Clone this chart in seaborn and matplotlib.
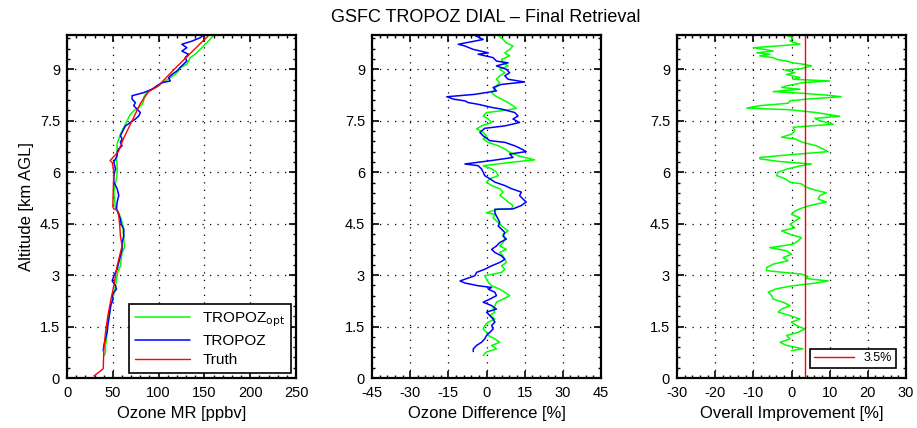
import matplotlib
matplotlib.use('Agg')
import matplotlib.pyplot as plt
import seaborn as sns
from matplotlib.ticker import MultipleLocator, FormatStrFormatter

# ozone mixing ratio profiles [ppbv] vs altitude [km AGL]
alt_mr_tropoz = [9.99, 9.92, 9.82, 9.73, 9.63, 9.53, 9.44, 9.34, 9.24, 9.15,
                 9.05, 8.95, 8.85, 8.76, 8.66, 8.61, 8.52, 8.42, 8.32, 8.23,
                 8.13, 8.03, 7.94, 7.84, 7.74, 7.64, 7.55, 7.45, 7.35, 7.26,
                 7.16, 7.06, 6.97, 6.87, 6.77, 6.68, 6.58, 6.48, 6.39, 6.29,
                 6.10, 5.90, 5.71, 5.52, 5.32, 5.13, 4.93, 4.77, 4.63, 4.48,
                 4.34, 4.14, 3.95, 3.75, 3.56, 3.37, 3.17, 2.98, 2.83, 2.69,
                 2.59, 2.50, 2.40, 2.30, 2.11, 1.92, 1.72, 1.53, 1.33, 1.14,
                 0.95, 0.80]
mr_tropoz = [148.9, 145.3, 136.2, 125.4, 130.8, 125.4, 132.6, 129.0, 130.8, 127.2,
             123.5, 119.9, 114.5, 110.9, 112.7, 103.6, 98.2, 92.8, 83.7, 71.0,
             71.0, 74.6, 72.8, 76.4, 80.1, 78.3, 74.6, 69.2, 63.8, 62.0,
             60.1, 58.3, 60.1, 58.3, 60.1, 56.5, 54.7, 54.7, 52.9, 51.1,
             52.9, 51.1, 51.1, 54.7, 56.5, 54.7, 54.0, 56.5, 58.3, 59.1,
             62.0, 62.0, 60.1, 60.1, 58.3, 56.5, 54.7, 51.1, 49.3, 52.9,
             54.0, 51.1, 49.3, 50.4, 47.5, 46.7, 45.7, 44.6, 43.8, 42.0,
             40.2, 39.5]

alt_mr_opt = [9.99, 9.87, 9.73, 9.58, 9.44, 9.34, 9.24, 9.15, 9.05, 8.95,
              8.85, 8.76, 8.66, 8.56, 8.47, 8.37, 8.27, 8.18, 8.08, 7.98,
              7.89, 7.79, 7.69, 7.60, 7.50, 7.40, 7.31, 7.21, 7.11, 6.97,
              6.82, 6.68, 6.53, 6.39, 6.19, 6.00, 5.81, 5.61, 5.42, 5.22,
              4.93, 4.82, 4.63, 4.43, 4.24, 4.05, 3.80, 3.66, 3.46, 3.27,
              3.08, 2.88, 2.69, 2.50, 2.30, 2.11, 1.92, 1.72, 1.53, 1.33,
              1.14, 0.95, 0.76, 0.66]
mr_opt = [159.8, 156.2, 150.7, 145.3, 139.9, 134.4, 132.6, 130.8, 123.5, 121.7,
          118.1, 112.7, 107.2, 101.8, 96.4, 89.1, 85.5, 83.7, 83.7, 81.9,
          78.3, 72.8, 69.2, 67.4, 65.6, 63.8, 62.0, 60.1, 58.3, 56.5,
          54.7, 54.7, 54.7, 54.0, 54.7, 54.7, 54.0, 52.2, 51.1, 51.8,
          52.9, 56.5, 59.1, 61.2, 61.2, 62.0, 62.7, 60.1, 59.1, 58.3,
          55.4, 54.0, 52.9, 51.8, 49.3, 48.2, 46.7, 44.9, 43.8, 43.1,
          43.1, 42.0, 42.0, 40.9]

alt_truth = [10.0, 9.5, 9.0, 8.5, 8.35, 8.0, 7.5, 7.0, 6.6, 6.34,
             6.28, 6.0, 5.5, 5.0, 4.93, 4.9, 4.72, 4.43, 4.14, 3.85,
             3.66, 3.27, 2.98, 2.69, 2.30, 1.82, 1.33, 0.85, 0.27, 0.17,
             0.06]
mr_truth = [155, 136, 117, 99, 89, 80, 71, 62, 56, 47,
            49.5, 51, 50.5, 50, 51, 55, 56.5, 57.6, 58.3, 60.1,
            58.3, 54.7, 52.9, 51.1, 48.0, 44.6, 42.0, 40.2, 39.5, 34.8,
            29.3]

# ozone difference [%]
alt_d_tropoz = [9.99, 9.87, 9.73, 9.68, 9.58, 9.48, 9.44, 9.34, 9.24, 9.19,
                9.10, 9.00, 8.90, 8.81, 8.71, 8.63, 8.56, 8.47, 8.37, 8.27,
                8.20, 8.13, 8.08, 8.03, 7.98, 7.89, 7.84, 7.74, 7.64, 7.55,
                7.45, 7.35, 7.28, 7.16, 7.06, 6.92, 6.87, 6.77, 6.68, 6.60,
                6.53, 6.43, 6.34, 6.24, 6.19, 6.10, 6.00, 5.90, 5.81, 5.71,
                5.61, 5.52, 5.42, 5.32, 5.22, 5.13, 5.03, 4.93,
                4.92, 4.82, 4.72, 4.63, 4.53, 4.43, 4.34, 4.24, 4.14, 4.05,
                3.95, 3.85, 3.75, 3.66, 3.56, 3.46, 3.37, 3.27, 3.17, 3.08,
                2.98, 2.88, 2.83, 2.77, 2.69, 2.64, 2.59, 2.50, 2.40, 2.30,
                2.21, 2.11, 2.01, 1.92, 1.82, 1.72, 1.63, 1.53, 1.43, 1.33,
                1.24, 1.14, 1.04, 0.95, 0.85, 0.77]
d_tropoz = [-4.6, -1.3, -11.1, -8.5, -5.2, 0.7, -3.3, 2.6, 3.9, 8.5,
            3.9, 7.8, 9.1, 7.2, 8.5, 15.0, 5.9, 2.6, 3.9, -4.6,
            -15.6, -13.0, -8.5, -7.2, -3.3, 2.0, 5.9, 11.1, 12.4, 10.4,
            13.0, 7.2, -0.7, -2.6, -1.3, 1.3, 7.2, 11.1, 13.7, 15.6,
            9.1, 10.4, 2.0, -8.5, -3.3, -2.0, -1.3, -0.7, 1.3, 3.3,
            7.2, 9.8, 13.7, 13.0, 14.3, 15.6, 13.7, 10.4,
            3.3, 3.3, 3.9, 4.6, 5.2, 4.6, 5.9, 7.2, 6.5, 7.8,
            5.2, 3.9, 2.0, 3.3, 5.9, 7.2, 5.2, 2.0, -0.7, -3.9,
            -4.6, -8.5, -10.4, -8.5, -3.3, 2.0, 0.7, 3.3, 3.9, 1.3,
            -1.3, 2.0, 3.9, 0.0, 1.3, 2.6, 3.3, 2.0, 2.6, 1.3,
            0.0, -0.7, -2.0, -3.9, -5.2, -5.2]

alt_d_opt = [9.99, 9.87, 9.77, 9.68, 9.58, 9.48, 9.39, 9.29, 9.19, 9.10,
             9.00, 8.90, 8.81, 8.71, 8.61, 8.52, 8.42, 8.32, 8.23, 8.13,
             8.03, 7.94, 7.86, 7.79, 7.74, 7.64, 7.55, 7.45, 7.35, 7.26,
             7.16, 7.06, 6.97, 6.87, 6.77, 6.68, 6.58, 6.48, 6.36, 6.29,
             6.19, 6.10, 6.00, 5.90, 5.81, 5.71, 5.61, 5.52, 5.42, 5.32,
             5.22, 5.13, 5.03, 4.93,
             4.92, 4.82, 4.77, 4.67, 4.53, 4.43, 4.29, 4.19, 4.05, 3.95,
             3.85, 3.75, 3.66, 3.56, 3.46, 3.37, 3.27, 3.17, 3.08, 2.98,
             2.88, 2.79, 2.69, 2.59, 2.50, 2.40, 2.30, 2.21, 2.11, 2.01,
             1.92, 1.82, 1.72, 1.63, 1.53, 1.43, 1.33, 1.24, 1.14, 1.04,
             0.95, 0.85, 0.76, 0.66]
d_opt = [4.6, 6.5, 7.8, 10.4, 9.1, 7.2, 9.1, 5.9, 6.5, 8.5,
         5.2, 7.2, 5.2, 3.9, 5.2, 3.9, 3.3, 2.0, 3.3, 5.9,
         8.5, 10.4, 11.7, 5.9, 0.0, -1.3, 0.7, 2.0, -2.0, -3.9,
         -1.3, 0.0, -1.3, 0.7, 4.6, 7.2, 9.1, 12.4, 18.9, 9.8,
         -1.3, 2.0, 3.9, 4.6, 1.3, 0.0, 2.0, 5.2, 6.5, 5.2,
         7.2, 8.5, 10.4, 9.8,
         4.6, 0.0, 3.3, 2.6, 4.6, 5.9, 8.5, 6.5, 7.2, 6.5,
         5.2, 7.8, 5.2, 6.5, 7.2, 7.8, 5.9, 7.2, 5.9, -0.7,
         0.0, 0.7, 2.0, 5.2, 7.2, 9.1, 6.5, 3.9, 3.3, 2.6,
         3.3, 1.3, 3.3, 0.7, -0.7, -1.3, 0.0, 0.7, 3.3, 5.2,
         2.0, 3.9, 0.0, -1.3]

# overall improvement [%]
alt_imp = [9.99, 9.92, 9.82, 9.73, 9.63, 9.58, 9.53, 9.48, 9.44, 9.39,
           9.34, 9.29, 9.24, 9.19, 9.15, 9.10, 9.02, 8.98, 8.90, 8.85,
           8.76, 8.71, 8.66, 8.61, 8.52, 8.47, 8.42, 8.35, 8.30, 8.24,
           8.20, 8.13, 8.08, 8.01, 7.94, 7.87, 7.82, 7.74, 7.63, 7.57,
           7.50, 7.40, 7.31, 7.21, 7.11, 7.02, 6.97, 6.87, 6.77, 6.70,
           6.60, 6.50, 6.43, 6.39, 6.31, 6.24, 6.17, 6.10, 6.00, 5.90,
           5.81, 5.71, 5.66, 5.56, 5.47, 5.40, 5.32, 5.22, 5.13, 5.03,
           4.95,
           4.87, 4.77, 4.67, 4.58, 4.48, 4.38, 4.29, 4.19, 4.09, 4.00,
           3.90, 3.80, 3.71, 3.61, 3.51, 3.42, 3.32, 3.22, 3.13, 3.08,
           3.03, 2.96, 2.90, 2.83, 2.77, 2.69, 2.64, 2.59, 2.50, 2.40,
           2.30, 2.21, 2.11, 2.01, 1.92, 1.82, 1.72, 1.63, 1.53, 1.43,
           1.33, 1.24, 1.14, 1.04, 0.95, 0.85, 0.80]
imp = [-1.3, 0.4, -0.4, 2.2, -10.0, -7.0, -4.8, -9.1, -5.7, -8.3,
       -4.8, -3.9, -1.3, 0.4, 3.0, 5.2, 2.6, -1.7, 0.9, -1.3,
       2.2, 0.4, 10.0, 3.0, -1.3, -2.6, 2.2, -4.8, 3.0, 10.0,
       13.0, 3.9, -0.4, -0.9, -8.3, -11.7, -0.4, 6.5, 12.6, 6.1,
       7.4, 10.9, 0.4, 0.9, 0.0, -2.6, 0.9, 3.0, 6.5, 7.8,
       9.6, -1.3, -8.3, -8.3, -3.0, 5.2, 1.7, -0.9, -3.5, -3.9,
       -1.7, -0.4, 2.6, 3.9, 6.5, 9.1, 7.4, 7.0, 9.1, 4.8,
       2.6,
       0.9, 0.0, 2.2, 0.9, -0.4, 0.9, -2.6, -0.4, 2.6, 1.7,
       0.4, -5.7, -1.3, 0.0, -2.2, -0.9, -4.8, -6.5, -6.5, -2.2,
       2.6, 4.3, 3.9, 9.6, 6.5, 0.4, -2.2, -4.3, -6.1, -5.2,
       -4.8, -2.2, -0.4, -2.6, -3.5, -0.4, 2.2, 0.0, 1.3, 3.5,
       1.7, -1.3, -0.4, -3.0, -1.3, 3.0, 0.0]
imp_mean = 3.5

GREEN, BLUE, RED = '#00ff00', '#0000ff', '#ff0000'

sns.set_style('ticks')
plt.rcParams['font.family'] = ['Liberation Sans', 'DejaVu Sans']
plt.rcParams['text.color'] = 'black'
plt.rcParams['axes.labelcolor'] = 'black'
plt.rcParams['xtick.color'] = 'black'
plt.rcParams['ytick.color'] = 'black'
plt.rcParams['axes.unicode_minus'] = False

fig = plt.figure(figsize=(9.17, 4.28), dpi=100)
w, h, b = 0.2497, 0.8014, 0.1168
ax1 = fig.add_axes([0.0731, b, w, h])
ax2 = fig.add_axes([0.4057, b, w, h])
ax3 = fig.add_axes([0.7383, b, w, h])


def style(ax, xlim, major, minor):
    ax.set_xlim(xlim)
    ax.set_ylim(0, 10)
    ax.xaxis.set_major_locator(MultipleLocator(major))
    ax.xaxis.set_minor_locator(MultipleLocator(minor))
    ax.yaxis.set_major_locator(MultipleLocator(1.5))
    ax.yaxis.set_minor_locator(MultipleLocator(0.3))
    ax.yaxis.set_major_formatter(FormatStrFormatter('%g'))
    ax.tick_params(which='both', direction='in', top=True, right=True,
                   labelsize=10.5, colors='black')
    ax.tick_params(which='major', length=5, width=1.2, pad=5)
    ax.tick_params(axis='x', which='major', pad=6)
    ax.tick_params(which='minor', length=2.5, width=1)
    ax.grid(True, which='major', linestyle=(0, (1, 5)), color='black', lw=0.9)
    for s in ax.spines.values():
        s.set_visible(True)
        s.set_linewidth(1.6)
        s.set_color('black')


# panel 1 - mixing ratio
sns.lineplot(x=mr_opt, y=alt_mr_opt, sort=False, estimator=None, color=GREEN,
             lw=1.1, label='TROPOZ$_{\\mathrm{opt}}$', ax=ax1)
sns.lineplot(x=mr_tropoz, y=alt_mr_tropoz, sort=False, estimator=None, color=BLUE,
             lw=1.1, label='TROPOZ', ax=ax1)
sns.lineplot(x=mr_truth, y=alt_truth, sort=False, estimator=None, color=RED,
             lw=1, label='Truth', ax=ax1)
style(ax1, (0, 250), 50, 10)
ax1.set_xlabel('Ozone MR [ppbv]', fontsize=12)
ax1.set_ylabel('Altitude [km AGL]', fontsize=12)
leg = ax1.legend(loc='lower right', fontsize=11, handlelength=3.6, fancybox=False,
                 framealpha=1, edgecolor='black', borderaxespad=0.3,
                 labelspacing=0.35, borderpad=0.4)
leg.get_frame().set_linewidth(1.2)

# panel 2 - difference
sns.lineplot(x=d_opt, y=alt_d_opt, sort=False, estimator=None, color=GREEN,
             lw=1.1, ax=ax2)
sns.lineplot(x=d_tropoz, y=alt_d_tropoz, sort=False, estimator=None, color=BLUE,
             lw=1.1, ax=ax2)
style(ax2, (-45, 45), 15, 3)
ax2.set_xlabel('Ozone Difference [%]', fontsize=12)
ax2.set_ylabel('')

# panel 3 - improvement
sns.lineplot(x=imp, y=alt_imp, sort=False, estimator=None, color=GREEN,
             lw=1.1, ax=ax3)
ax3.axvline(imp_mean, color=RED, lw=1, label=f'{imp_mean}%')
style(ax3, (-30, 30), 10, 2)
ax3.set_xlabel('Overall Improvement [%]', fontsize=12)
ax3.set_ylabel('')
handles, labels = ax3.get_legend_handles_labels()
leg3 = ax3.legend(handles[-1:], labels[-1:], loc='lower right', fontsize=9,
                  handlelength=3.2, fancybox=False, framealpha=1,
                  edgecolor='black', borderaxespad=0.8, borderpad=0.3)
leg3.get_frame().set_linewidth(1.2)

fig.text(0.53, 0.958, 'GSFC TROPOZ DIAL \u2013 Final Retrieval', ha='center',
         va='center', fontsize=13)

fig.savefig('out.png', dpi=100)
